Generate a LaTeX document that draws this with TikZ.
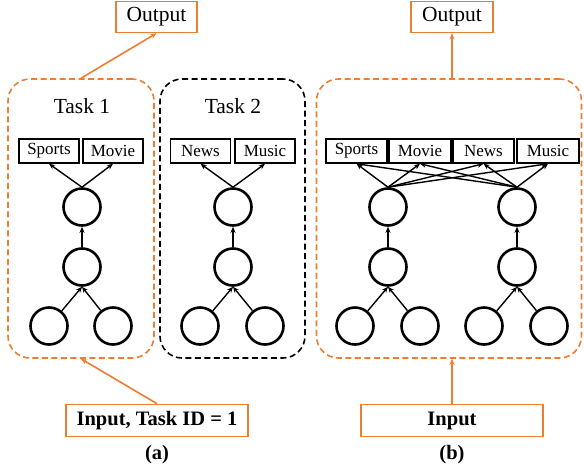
\documentclass[tikz,border=0pt]{standalone}
\usepackage{fontspec}
\setmainfont{Liberation Serif}
\usetikzlibrary{arrows.meta}
\definecolor{org}{HTML}{ED7D31}
\begin{document}
\begin{tikzpicture}[x=1pt,y=-1pt,
  obox/.style={draw=org,line width=1.6pt,inner sep=0pt,minimum height=31,font=\fontsize{21.5}{24}\selectfont},
  ibox/.style={draw=org,line width=1.6pt,inner sep=0pt,minimum height=32,font=\fontsize{20.5}{24}\selectfont\bfseries},
  lbox/.style={draw,line width=1.5pt,inner sep=0pt,minimum width=60,minimum height=24,font=\fontsize{17}{20}\selectfont},
  neuron/.style={circle,draw,line width=2.6pt,minimum size=37,inner sep=0pt},
  container/.style={dashed,dash pattern=on 6pt off 3.5pt,line width=1.6pt,rounded corners=22pt,minimum width=#1,minimum height=279,inner sep=0pt},
  tasklbl/.style={font=\fontsize{21.5}{24}\selectfont},
  caplbl/.style={font=\fontsize{20.5}{22}\selectfont\bfseries},
  arr/.style={-{Stealth[length=6pt,width=5pt]},line width=1.4pt},
  oarr/.style={-{Stealth[length=6pt,width=5pt]},line width=1.6pt,draw=org,fill=org}
]
\useasboundingbox (0,0) rectangle (584,472);

% ---------- (a) ----------
\node[obox,minimum width=81] (outA) at (156.5,17) {Output};
\node[container=146,draw=org] (t1) at (81,218.5) {};
\node[container=145,draw=black] (t2) at (232.5,218.5) {};
\node[tasklbl] (l1) at (82,106) {Task 1};
\node[tasklbl] (l2) at (233,106) {Task 2};

\node[lbox] (sA) at (49,151) {Sports};
\node[lbox] (mA) at (113,151) {Movie};
\node[lbox] (nA) at (200.5,151) {News};
\node[lbox] (uA) at (265,151) {Music};

\node[neuron] (a1) at (82,207) {};
\node[neuron] (a2) at (82,267) {};
\node[neuron] (a3) at (49,326) {};
\node[neuron] (a4) at (113,326) {};
\node[neuron] (b1) at (233,207) {};
\node[neuron] (b2) at (233,267) {};
\node[neuron] (b3) at (200,326) {};
\node[neuron] (b4) at (265,326) {};

\draw[arr] (a1.north) -- (sA.south);
\draw[arr] (a1.north) -- (mA.south);
\draw[arr] (a2) -- (a1);
\draw[arr] (a3) -- (a2.south);
\draw[arr] (a4) -- (a2.south);
\draw[arr] (b1.north) -- (nA.south);
\draw[arr] (b1.north) -- (uA.south);
\draw[arr] (b2) -- (b1);
\draw[arr] (b3) -- (b2.south);
\draw[arr] (b4) -- (b2.south);

\node[ibox,minimum width=182] (inA) at (157,420.5) {Input, Task ID = 1};
\draw[oarr] (t1.north) -- (outA.south);
\draw[oarr] (inA.north) -- (t1.south);
\node[caplbl] (ca) at (157,455) {(a)};

% ---------- (b) ----------
\node[obox,minimum width=82] (outB) at (452,17) {Output};
\node[container=265,draw=org] (t3) at (449,218.5) {};

\node[lbox,minimum width=61] (sB) at (356.5,151) {Sports};
\node[lbox,minimum width=62] (mB) at (420,151) {Movie};
\node[lbox,minimum width=61] (nB) at (483.5,151) {News};
\node[lbox,minimum width=62] (uB) at (548,151) {Music};

\node[neuron] (c1) at (388,207) {};
\node[neuron] (c2) at (388,267) {};
\node[neuron] (c3) at (355,326) {};
\node[neuron] (c4) at (420,326) {};
\node[neuron] (d1) at (517,207) {};
\node[neuron] (d2) at (517,267) {};
\node[neuron] (d3) at (484,326) {};
\node[neuron] (d4) at (549,326) {};

\foreach \t in {sB,mB,nB,uB}{
  \draw[arr] (c1.north) -- (\t.south);
  \draw[arr] (d1.north) -- (\t.south);
}
\draw[arr] (c2) -- (c1);
\draw[arr] (c3) -- (c2.south);
\draw[arr] (c4) -- (c2.south);
\draw[arr] (d2) -- (d1);
\draw[arr] (d3) -- (d2.south);
\draw[arr] (d4) -- (d2.south);

\node[ibox,minimum width=182] (inB) at (452,420.5) {Input};
\draw[oarr] (t3.north -| outB.south) -- (outB.south);
\draw[oarr] (inB.north) -- (inB.north |- t3.south);
\node[caplbl] (cb) at (452,455) {(b)};
\end{tikzpicture}
\end{document}
